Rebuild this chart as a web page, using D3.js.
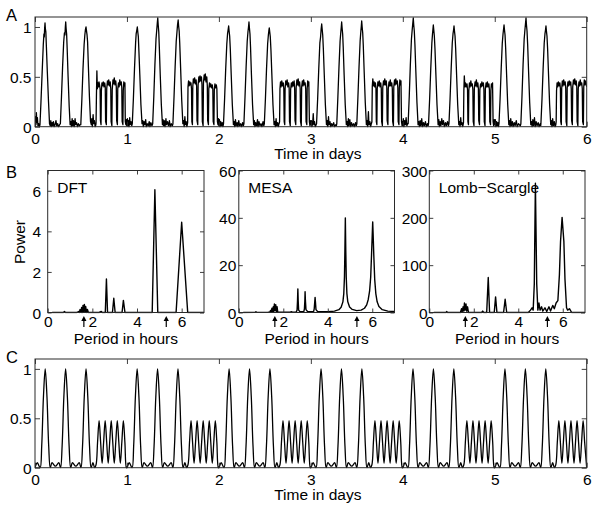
<!DOCTYPE html>
<html><head><meta charset="utf-8">
<script src="https://cdn.jsdelivr.net/npm/d3@7"></script>
<style>
body{margin:0;background:#fff}
svg{display:block}
text{font-family:"Liberation Sans",Arial,Helvetica,sans-serif;fill:#000}
</style>
</head><body>
<svg id="chart" width="600" height="509"></svg>
<script>
// ---------- DATA ----------
const dayTicks = [0,1,2,3,4,5,6];
const activityTicks = [0,0.5,1];
const periodTicks = [0,2,4,6];
const arrowPeriods = [1.62, 5.31];
const dftTicks = [0,2,4,6];
const mesaTicks = [0,20,40,60];
const lombTicks = [0,100,200,300];

// Panel A: measured activity (time in days, activity)
const aDay0 = [[0.000,0.03],[0.006,0.10],[0.010,0.02],[0.015,0.14],[0.020,0.04],[0.026,0.09],[0.032,0.01],[0.040,0.03],[0.048,0.00],
[0.054,0.02],[0.065,0.25],[0.078,0.55],[0.090,0.82],[0.097,0.93],[0.101,0.90],[0.105,0.99],[0.109,1.04],[0.113,0.98],[0.118,0.95],[0.124,0.80],[0.134,0.55],[0.147,0.25],[0.158,0.03],
[0.166,0.01],[0.172,0.06],[0.178,0.00],[0.186,0.04],[0.192,0.01],[0.200,0.05],[0.208,0.00],[0.218,0.02],[0.228,0.06],[0.236,0.01],[0.246,0.03],[0.256,0.00],[0.268,0.02],
[0.276,0.03],[0.288,0.30],[0.300,0.60],[0.312,0.85],[0.320,0.94],[0.326,0.92],[0.330,1.00],[0.334,1.05],[0.338,0.99],[0.344,0.93],[0.350,0.78],[0.360,0.50],[0.372,0.20],[0.382,0.02],
[0.390,0.05],[0.396,0.00],[0.404,0.08],[0.410,0.01],[0.418,0.06],[0.426,0.00],[0.436,0.08],[0.442,0.02],[0.452,0.04],[0.462,0.00],[0.472,0.03],[0.484,0.01],[0.492,0.02],
[0.498,0.02],[0.510,0.28],[0.522,0.58],[0.534,0.82],[0.542,0.92],[0.548,0.97],[0.555,1.00],[0.560,0.96],[0.566,0.92],[0.572,0.85],[0.580,0.62],[0.592,0.30],[0.604,0.05],
[0.612,0.02],[0.618,0.08],[0.624,0.00],[0.632,0.12],[0.638,0.03],[0.646,0.06],[0.654,0.00],[0.662,0.02],
[0.664,0.04],[0.668,0.30],[0.673,0.56],[0.678,0.38],[0.684,0.44],[0.690,0.40],[0.696,0.45],[0.702,0.42],[0.708,0.38],[0.712,0.06],[0.718,0.02],
[0.722,0.36],[0.728,0.44],[0.734,0.41],[0.742,0.45],[0.750,0.40],[0.758,0.44],[0.764,0.40],[0.768,0.05],[0.776,0.02],
[0.780,0.38],[0.788,0.46],[0.795,0.42],[0.802,0.47],[0.810,0.41],[0.818,0.45],[0.824,0.38],[0.828,0.05],[0.836,0.01],
[0.840,0.37],[0.848,0.47],[0.855,0.43],[0.862,0.49],[0.870,0.42],[0.878,0.46],[0.884,0.40],[0.888,0.06],[0.896,0.02],
[0.900,0.38],[0.908,0.44],[0.915,0.40],[0.922,0.47],[0.930,0.42],[0.938,0.45],[0.944,0.39],[0.948,0.05],[0.956,0.02],
[0.960,0.36],[0.966,0.45],[0.972,0.41],[0.978,0.44],[0.982,0.05],[0.988,0.02],[0.994,0.07],[0.998,0.01]];
const aDay1 = [[1.000,0.02],[1.005,0.08],[1.010,0.01],[1.016,0.06],[1.022,0.00],[1.030,0.09],[1.036,0.02],[1.044,0.05],[1.052,0.01],
[1.058,0.03],[1.070,0.28],[1.082,0.58],[1.094,0.84],[1.100,0.93],[1.106,0.96],[1.113,1.00],[1.118,0.95],[1.124,0.90],[1.130,0.76],[1.140,0.52],[1.152,0.22],[1.164,0.03],
[1.172,0.06],[1.178,0.00],[1.186,0.05],[1.194,0.02],[1.204,0.07],[1.210,0.00],[1.220,0.03],[1.232,0.01],[1.242,0.05],[1.250,0.00],[1.260,0.04],[1.272,0.01],
[1.280,0.03],[1.292,0.30],[1.304,0.62],[1.316,0.88],[1.324,0.97],[1.330,1.04],[1.335,1.09],[1.340,1.02],[1.346,0.95],[1.352,0.80],[1.362,0.52],[1.374,0.22],[1.386,0.02],
[1.392,0.07],[1.398,0.01],[1.406,0.06],[1.414,0.00],[1.424,0.08],[1.430,0.02],[1.440,0.05],[1.452,0.01],[1.462,0.06],[1.470,0.00],[1.482,0.03],[1.494,0.01],
[1.500,0.03],[1.512,0.30],[1.524,0.60],[1.536,0.86],[1.544,0.95],[1.550,1.02],[1.557,1.07],[1.562,1.01],[1.568,0.96],[1.574,0.84],[1.584,0.58],[1.596,0.26],[1.608,0.03],
[1.616,0.06],[1.622,0.00],[1.630,0.10],[1.636,0.02],[1.644,0.05],[1.652,0.00],
[1.660,0.04],[1.664,0.40],[1.670,0.46],[1.676,0.41],[1.684,0.45],[1.690,0.42],[1.696,0.44],[1.702,0.38],[1.706,0.05],[1.712,0.02],
[1.716,0.40],[1.722,0.48],[1.728,0.44],[1.736,0.49],[1.744,0.43],[1.752,0.47],[1.758,0.40],[1.762,0.06],[1.770,0.02],
[1.774,0.42],[1.782,0.50],[1.788,0.45],[1.795,0.51],[1.802,0.46],[1.810,0.50],[1.816,0.42],[1.820,0.05],[1.828,0.01],
[1.832,0.44],[1.840,0.52],[1.846,0.47],[1.852,0.53],[1.860,0.45],[1.868,0.50],[1.874,0.41],[1.878,0.06],[1.886,0.02],
[1.890,0.38],[1.898,0.44],[1.905,0.40],[1.912,0.43],[1.920,0.39],[1.928,0.42],[1.934,0.37],[1.938,0.05],[1.946,0.02],
[1.950,0.37],[1.957,0.43],[1.964,0.39],[1.972,0.42],[1.978,0.38],[1.984,0.05],[1.990,0.02],[1.996,0.08]];
const aDay2 = [[2.000,0.01],[2.006,0.07],[2.012,0.00],[2.020,0.05],[2.028,0.01],[2.036,0.04],[2.044,0.00],
[2.050,0.03],[2.062,0.28],[2.074,0.58],[2.086,0.83],[2.094,0.93],[2.100,0.97],[2.106,1.01],[2.111,0.96],[2.117,0.91],[2.124,0.78],[2.134,0.52],[2.146,0.22],[2.158,0.02],
[2.166,0.05],[2.172,0.00],[2.180,0.07],[2.188,0.01],[2.198,0.04],[2.206,0.00],[2.216,0.06],[2.224,0.01],[2.236,0.03],[2.246,0.00],[2.258,0.04],[2.266,0.01],
[2.272,0.03],[2.284,0.30],[2.296,0.60],[2.308,0.86],[2.316,0.95],[2.322,1.00],[2.327,1.05],[2.332,0.99],[2.338,0.93],[2.344,0.80],[2.354,0.52],[2.366,0.22],[2.378,0.02],
[2.386,0.06],[2.392,0.00],[2.400,0.04],[2.410,0.01],[2.420,0.07],[2.426,0.00],[2.436,0.05],[2.446,0.01],[2.458,0.03],[2.468,0.00],[2.480,0.05],[2.488,0.01],
[2.494,0.03],[2.506,0.28],[2.518,0.58],[2.530,0.83],[2.538,0.92],[2.543,0.96],[2.548,0.99],[2.553,0.95],[2.559,0.90],[2.566,0.77],[2.576,0.52],[2.588,0.22],[2.600,0.02],
[2.608,0.05],[2.614,0.00],[2.622,0.08],[2.628,0.01],[2.638,0.04],[2.646,0.00],[2.654,0.03],
[2.660,0.05],[2.664,0.38],[2.670,0.45],[2.676,0.40],[2.684,0.46],[2.692,0.41],[2.700,0.44],[2.706,0.38],[2.710,0.05],[2.716,0.02],
[2.720,0.38],[2.727,0.46],[2.734,0.42],[2.742,0.47],[2.750,0.40],[2.758,0.44],[2.764,0.39],[2.768,0.05],[2.776,0.01],
[2.780,0.37],[2.788,0.44],[2.795,0.40],[2.802,0.45],[2.810,0.41],[2.818,0.46],[2.824,0.38],[2.828,0.06],[2.836,0.02],
[2.840,0.39],[2.848,0.47],[2.855,0.42],[2.862,0.48],[2.870,0.41],[2.878,0.45],[2.884,0.38],[2.888,0.05],[2.896,0.01],
[2.900,0.40],[2.908,0.46],[2.915,0.41],[2.922,0.47],[2.930,0.42],[2.938,0.44],[2.944,0.38],[2.948,0.05],[2.956,0.02],
[2.960,0.38],[2.966,0.46],[2.972,0.41],[2.978,0.45],[2.984,0.05],[2.990,0.01],[2.996,0.06]];
const aDay3 = [[3.000,0.02],[3.006,0.06],[3.012,0.00],[3.020,0.04],[3.026,0.13],[3.032,0.02],[3.040,0.05],[3.048,0.00],
[3.062,0.03],[3.074,0.28],[3.086,0.58],[3.098,0.84],[3.106,0.90],[3.112,0.98],[3.118,1.03],[3.123,0.98],[3.129,0.92],[3.136,0.78],[3.146,0.52],[3.158,0.22],[3.170,0.02],
[3.178,0.06],[3.184,0.00],[3.192,0.10],[3.198,0.02],[3.208,0.05],[3.216,0.00],[3.226,0.03],[3.236,0.01],[3.248,0.04],[3.258,0.00],[3.270,0.02],[3.278,0.01],
[3.282,0.03],[3.294,0.30],[3.306,0.60],[3.318,0.86],[3.326,0.95],[3.331,1.00],[3.335,1.05],[3.340,0.99],[3.346,0.93],[3.352,0.80],[3.362,0.52],[3.374,0.22],[3.386,0.02],
[3.394,0.05],[3.400,0.00],[3.408,0.08],[3.414,0.01],[3.424,0.07],[3.432,0.00],[3.442,0.04],[3.452,0.01],[3.464,0.03],[3.474,0.00],[3.486,0.04],[3.494,0.01],
[3.500,0.03],[3.512,0.30],[3.524,0.60],[3.536,0.86],[3.544,0.96],[3.549,1.01],[3.553,1.06],[3.558,1.00],[3.564,0.94],[3.570,0.82],[3.580,0.55],[3.592,0.24],[3.604,0.02],
[3.612,0.06],[3.618,0.00],[3.626,0.15],[3.632,0.02],[3.642,0.05],[3.650,0.00],[3.658,0.03],
[3.664,0.05],[3.668,0.40],[3.674,0.48],[3.680,0.41],[3.688,0.45],[3.695,0.40],[3.702,0.44],[3.708,0.38],[3.712,0.05],[3.718,0.02],
[3.722,0.38],[3.729,0.45],[3.736,0.41],[3.744,0.46],[3.752,0.40],[3.760,0.44],[3.766,0.38],[3.770,0.05],[3.778,0.01],
[3.782,0.39],[3.790,0.46],[3.797,0.42],[3.804,0.48],[3.812,0.42],[3.820,0.46],[3.826,0.39],[3.830,0.06],[3.838,0.02],
[3.842,0.38],[3.850,0.45],[3.857,0.41],[3.864,0.47],[3.872,0.41],[3.880,0.44],[3.886,0.38],[3.890,0.05],[3.898,0.01],
[3.902,0.40],[3.910,0.47],[3.917,0.42],[3.924,0.48],[3.932,0.43],[3.940,0.46],[3.946,0.39],[3.950,0.05],[3.958,0.02],
[3.962,0.39],[3.968,0.47],[3.974,0.42],[3.980,0.46],[3.986,0.05],[3.992,0.01],[3.997,0.05]];
const aDay4 = [[4.000,0.01],[4.006,0.08],[4.012,0.00],[4.020,0.06],[4.028,0.02],[4.036,0.09],[4.044,0.01],[4.052,0.03],
[4.058,0.03],[4.070,0.30],[4.082,0.62],[4.094,0.88],[4.102,0.97],[4.108,1.03],[4.114,1.09],[4.119,1.02],[4.125,0.96],[4.132,0.82],[4.142,0.55],[4.154,0.24],[4.166,0.02],
[4.174,0.05],[4.180,0.00],[4.188,0.06],[4.196,0.01],[4.206,0.08],[4.214,0.00],[4.224,0.04],[4.234,0.01],[4.246,0.05],[4.256,0.00],[4.268,0.03],[4.276,0.01],
[4.280,0.03],[4.292,0.28],[4.304,0.58],[4.316,0.84],[4.323,0.93],[4.328,0.98],[4.332,1.02],[4.337,0.97],[4.343,0.91],[4.350,0.78],[4.360,0.52],[4.372,0.22],[4.384,0.02],
[4.392,0.07],[4.398,0.00],[4.406,0.05],[4.414,0.01],[4.424,0.08],[4.432,0.02],[4.442,0.06],[4.452,0.00],[4.464,0.04],[4.474,0.01],[4.486,0.05],[4.496,0.01],
[4.502,0.03],[4.514,0.28],[4.526,0.58],[4.538,0.84],[4.546,0.93],[4.552,0.97],[4.557,1.01],[4.562,0.96],[4.568,0.91],[4.575,0.78],[4.585,0.52],[4.597,0.22],[4.609,0.02],
[4.616,0.05],[4.622,0.00],[4.630,0.09],[4.636,0.02],[4.644,0.04],[4.652,0.00],
[4.660,0.04],[4.664,0.36],[4.669,0.51],[4.675,0.40],[4.682,0.44],[4.690,0.40],[4.698,0.43],[4.704,0.37],[4.708,0.05],[4.714,0.02],
[4.718,0.36],[4.725,0.44],[4.732,0.40],[4.740,0.46],[4.748,0.41],[4.756,0.43],[4.762,0.37],[4.766,0.05],[4.774,0.01],
[4.778,0.38],[4.786,0.45],[4.793,0.41],[4.800,0.47],[4.808,0.40],[4.816,0.44],[4.822,0.38],[4.826,0.06],[4.834,0.02],
[4.838,0.37],[4.846,0.43],[4.853,0.40],[4.860,0.45],[4.868,0.41],[4.876,0.44],[4.882,0.37],[4.886,0.05],[4.894,0.01],
[4.898,0.38],[4.906,0.44],[4.913,0.40],[4.920,0.45],[4.928,0.40],[4.936,0.43],[4.942,0.37],[4.946,0.05],[4.954,0.02],
[4.958,0.36],[4.964,0.43],[4.970,0.40],[4.976,0.44],[4.982,0.05],[4.988,0.01],[4.995,0.07]];
const aDay5 = [[5.000,0.02],[5.006,0.07],[5.012,0.00],[5.020,0.05],[5.026,0.01],[5.034,0.04],[5.040,0.00],
[5.046,0.03],[5.058,0.28],[5.070,0.58],[5.082,0.84],[5.090,0.93],[5.096,0.98],[5.101,1.02],[5.106,0.97],[5.112,0.92],[5.119,0.78],[5.129,0.52],[5.141,0.22],[5.153,0.02],
[5.160,0.06],[5.166,0.00],[5.174,0.08],[5.182,0.01],[5.192,0.05],[5.200,0.00],[5.212,0.04],[5.222,0.01],[5.234,0.06],[5.244,0.00],[5.258,0.03],[5.278,0.01],
[5.284,0.03],[5.296,0.30],[5.308,0.62],[5.320,0.88],[5.328,0.97],[5.334,1.03],[5.340,1.09],[5.345,1.02],[5.351,0.96],[5.358,0.82],[5.368,0.55],[5.380,0.24],[5.392,0.02],
[5.400,0.05],[5.406,0.00],[5.414,0.07],[5.422,0.01],[5.432,0.09],[5.440,0.00],[5.450,0.05],[5.460,0.01],[5.472,0.04],[5.482,0.00],[5.494,0.03],[5.500,0.01],
[5.502,0.03],[5.514,0.28],[5.526,0.58],[5.538,0.84],[5.546,0.93],[5.552,0.97],[5.557,1.01],[5.562,0.96],[5.568,0.91],[5.575,0.78],[5.585,0.52],[5.597,0.22],[5.609,0.02],
[5.616,0.06],[5.622,0.00],[5.630,0.08],[5.638,0.01],[5.648,0.05],[5.656,0.00],[5.664,0.02],
[5.668,0.05],[5.672,0.36],[5.678,0.44],[5.684,0.40],[5.692,0.45],[5.700,0.41],[5.708,0.44],[5.714,0.38],[5.718,0.05],[5.724,0.02],
[5.728,0.38],[5.735,0.46],[5.742,0.41],[5.750,0.47],[5.758,0.42],[5.766,0.45],[5.772,0.38],[5.776,0.05],[5.784,0.01],
[5.788,0.39],[5.796,0.45],[5.803,0.41],[5.810,0.46],[5.818,0.42],[5.826,0.45],[5.832,0.38],[5.836,0.06],[5.844,0.02],
[5.848,0.40],[5.856,0.47],[5.863,0.43],[5.870,0.48],[5.878,0.42],[5.886,0.46],[5.892,0.40],[5.896,0.05],[5.904,0.01],
[5.908,0.38],[5.916,0.45],[5.923,0.41],[5.930,0.47],[5.938,0.42],[5.946,0.44],[5.952,0.38],[5.956,0.05],[5.964,0.02],
[5.968,0.40],[5.974,0.47],[5.980,0.42],[5.986,0.46],[5.992,0.44],[6.000,0.40]];

// Panel B: spectra (period in hours, power)
const dftSpectrum = [[0.2,0],[0.7,0],[0.75,0.05],[0.8,0],[1.3,0],[1.38,0.05],[1.42,0],[1.45,0.15],[1.5,0],[1.52,0.25],[1.56,0],[1.58,0.35],[1.62,0.05],[1.64,0.4],[1.68,0.05],[1.7,0.3],[1.74,0],[1.78,0.15],[1.82,0],[2.3,0],[2.4,0.05],[2.45,0],[2.58,0],[2.63,1.65],[2.68,0],[2.9,0],[2.96,0.7],[3.02,0],[3.33,0],[3.39,0.6],[3.46,0],[4.68,0],[4.8,6.05],[4.93,0],[5.75,0],[6.0,4.45],[6.27,0],[7,0]];
const mesaSpectrum = [[0.2,0],[0.7,0.05],[0.74,0.1],[0.77,0.35],[0.8,0.1],[0.85,0.05],[1.3,0.05],[1.4,0.2],[1.43,0.9],[1.46,0.2],[1.49,1.8],[1.52,0.3],[1.55,2.4],[1.57,0.5],[1.6,3.6],[1.63,0.8],[1.66,3.3],[1.69,0.5],[1.72,2.5],[1.75,0.3],[1.8,0.1],[2.3,0.1],[2.38,0.3],[2.42,0.1],[2.58,0.2],[2.62,1],[2.64,5],[2.655,10],[2.67,5],[2.69,1],[2.75,0.3],[2.92,0.3],[2.95,1.5],[2.97,5],[2.98,8.8],[2.995,5],[3.02,1.2],[3.1,0.3],[3.36,0.3],[3.39,1.5],[3.415,4.5],[3.43,6.4],[3.445,4.5],[3.47,1.2],[3.55,0.3],[4.0,0.3],[4.3,0.6],[4.5,1.2],[4.6,2.2],[4.68,4.5],[4.72,8],[4.75,15],[4.77,26],[4.79,40],[4.81,26],[4.83,15],[4.86,8],[4.9,4.5],[4.98,2.3],[5.1,1.3],[5.3,0.8],[5.5,1.0],[5.65,1.8],[5.75,3.2],[5.82,5.5],[5.88,9],[5.93,15],[5.97,25],[6.0,33],[6.02,38.3],[6.04,33],[6.07,24],[6.11,14],[6.16,8],[6.22,4.5],[6.3,2.5],[6.45,1.2],[6.7,0.6],[7,0.4]];
const lombSpectrum = [[0.2,0],[0.75,0],[0.78,2],[0.82,0],[1.4,0],[1.45,8],[1.48,2],[1.52,12],[1.55,3],[1.58,20],[1.61,5],[1.65,18],[1.68,3],[1.72,12],[1.76,0],[2.35,0],[2.4,3],[2.45,0],[2.58,0],[2.65,74],[2.71,0],[2.92,0],[2.98,33],[3.04,0],[3.34,0],[3.41,28],[3.48,0],[4.45,0],[4.55,5],[4.62,10],[4.67,5],[4.72,60],[4.77,273],[4.83,60],[4.88,5],[4.93,20],[4.98,5],[5.05,12],[5.1,3],[5.2,10],[5.28,2],[5.38,12],[5.45,3],[5.55,15],[5.62,8],[5.7,20],[5.78,25],[5.85,80],[5.9,150],[5.97,201],[6.05,150],[6.1,70],[6.17,10],[6.22,5],[6.3,8],[6.4,0],[7,0]];

// Panel C: fitted model (time in days, activity)
const cDay0 = [[0.000,0.00],[0.025,0.05],[0.056,0.00],[0.073,0.22],[0.092,0.72],[0.111,1.00],[0.130,0.72],[0.149,0.22],[0.166,0.00],[0.185,0.05],[0.222,0.015],[0.259,0.05],[0.278,0.00],[0.295,0.22],[0.314,0.72],[0.333,1.00],[0.352,0.72],[0.371,0.22],[0.388,0.00],[0.407,0.05],[0.444,0.015],[0.481,0.05],[0.500,0.00],[0.517,0.22],[0.536,0.72],[0.555,1.00],[0.574,0.72],[0.593,0.22],[0.610,0.00],[0.630,0.05],[0.648,0.00],[0.664,0.03],[0.6805,0.26],[0.697,0.475],[0.7135,0.26],[0.730,0.045],[0.7465,0.26],[0.763,0.475],[0.7795,0.26],[0.796,0.045],[0.8125,0.26],[0.829,0.475],[0.8455,0.26],[0.862,0.045],[0.8785,0.26],[0.895,0.475],[0.9115,0.26],[0.928,0.045],[0.9445,0.26],[0.961,0.475],[0.9775,0.26],[0.994,0.00]];
const cDay1 = [[1.000,0.00],[1.025,0.05],[1.056,0.00],[1.073,0.22],[1.092,0.72],[1.111,1.00],[1.130,0.72],[1.149,0.22],[1.166,0.00],[1.185,0.05],[1.222,0.015],[1.259,0.05],[1.278,0.00],[1.295,0.22],[1.314,0.72],[1.333,1.00],[1.352,0.72],[1.371,0.22],[1.388,0.00],[1.407,0.05],[1.444,0.015],[1.481,0.05],[1.500,0.00],[1.517,0.22],[1.536,0.72],[1.555,1.00],[1.574,0.72],[1.593,0.22],[1.610,0.00],[1.630,0.05],[1.648,0.00],[1.664,0.03],[1.6805,0.26],[1.697,0.475],[1.7135,0.26],[1.730,0.045],[1.7465,0.26],[1.763,0.475],[1.7795,0.26],[1.796,0.045],[1.8125,0.26],[1.829,0.475],[1.8455,0.26],[1.862,0.045],[1.8785,0.26],[1.895,0.475],[1.9115,0.26],[1.928,0.045],[1.9445,0.26],[1.961,0.475],[1.9775,0.26],[1.994,0.00]];
const cDay2 = [[2.000,0.00],[2.025,0.05],[2.056,0.00],[2.073,0.22],[2.092,0.72],[2.111,1.00],[2.130,0.72],[2.149,0.22],[2.166,0.00],[2.185,0.05],[2.222,0.015],[2.259,0.05],[2.278,0.00],[2.295,0.22],[2.314,0.72],[2.333,1.00],[2.352,0.72],[2.371,0.22],[2.388,0.00],[2.407,0.05],[2.444,0.015],[2.481,0.05],[2.500,0.00],[2.517,0.22],[2.536,0.72],[2.555,1.00],[2.574,0.72],[2.593,0.22],[2.610,0.00],[2.630,0.05],[2.648,0.00],[2.664,0.03],[2.6805,0.26],[2.697,0.475],[2.7135,0.26],[2.730,0.045],[2.7465,0.26],[2.763,0.475],[2.7795,0.26],[2.796,0.045],[2.8125,0.26],[2.829,0.475],[2.8455,0.26],[2.862,0.045],[2.8785,0.26],[2.895,0.475],[2.9115,0.26],[2.928,0.045],[2.9445,0.26],[2.961,0.475],[2.9775,0.26],[2.994,0.00]];
const cDay3 = [[3.000,0.00],[3.025,0.05],[3.056,0.00],[3.073,0.22],[3.092,0.72],[3.111,1.00],[3.130,0.72],[3.149,0.22],[3.166,0.00],[3.185,0.05],[3.222,0.015],[3.259,0.05],[3.278,0.00],[3.295,0.22],[3.314,0.72],[3.333,1.00],[3.352,0.72],[3.371,0.22],[3.388,0.00],[3.407,0.05],[3.444,0.015],[3.481,0.05],[3.500,0.00],[3.517,0.22],[3.536,0.72],[3.555,1.00],[3.574,0.72],[3.593,0.22],[3.610,0.00],[3.630,0.05],[3.648,0.00],[3.664,0.03],[3.6805,0.26],[3.697,0.475],[3.7135,0.26],[3.730,0.045],[3.7465,0.26],[3.763,0.475],[3.7795,0.26],[3.796,0.045],[3.8125,0.26],[3.829,0.475],[3.8455,0.26],[3.862,0.045],[3.8785,0.26],[3.895,0.475],[3.9115,0.26],[3.928,0.045],[3.9445,0.26],[3.961,0.475],[3.9775,0.26],[3.994,0.00]];
const cDay4 = [[4.000,0.00],[4.025,0.05],[4.056,0.00],[4.073,0.22],[4.092,0.72],[4.111,1.00],[4.130,0.72],[4.149,0.22],[4.166,0.00],[4.185,0.05],[4.222,0.015],[4.259,0.05],[4.278,0.00],[4.295,0.22],[4.314,0.72],[4.333,1.00],[4.352,0.72],[4.371,0.22],[4.388,0.00],[4.407,0.05],[4.444,0.015],[4.481,0.05],[4.500,0.00],[4.517,0.22],[4.536,0.72],[4.555,1.00],[4.574,0.72],[4.593,0.22],[4.610,0.00],[4.630,0.05],[4.648,0.00],[4.664,0.03],[4.6805,0.26],[4.697,0.475],[4.7135,0.26],[4.730,0.045],[4.7465,0.26],[4.763,0.475],[4.7795,0.26],[4.796,0.045],[4.8125,0.26],[4.829,0.475],[4.8455,0.26],[4.862,0.045],[4.8785,0.26],[4.895,0.475],[4.9115,0.26],[4.928,0.045],[4.9445,0.26],[4.961,0.475],[4.9775,0.26],[4.994,0.00]];
const cDay5 = [[5.000,0.00],[5.025,0.05],[5.056,0.00],[5.073,0.22],[5.092,0.72],[5.111,1.00],[5.130,0.72],[5.149,0.22],[5.166,0.00],[5.185,0.05],[5.222,0.015],[5.259,0.05],[5.278,0.00],[5.295,0.22],[5.314,0.72],[5.333,1.00],[5.352,0.72],[5.371,0.22],[5.388,0.00],[5.407,0.05],[5.444,0.015],[5.481,0.05],[5.500,0.00],[5.517,0.22],[5.536,0.72],[5.555,1.00],[5.574,0.72],[5.593,0.22],[5.610,0.00],[5.630,0.05],[5.648,0.00],[5.664,0.03],[5.6805,0.26],[5.697,0.475],[5.7135,0.26],[5.730,0.045],[5.7465,0.26],[5.763,0.475],[5.7795,0.26],[5.796,0.045],[5.8125,0.26],[5.829,0.475],[5.8455,0.26],[5.862,0.045],[5.8785,0.26],[5.895,0.475],[5.9115,0.26],[5.928,0.045],[5.9445,0.26],[5.961,0.475],[5.9775,0.26],[6.000,0.00]];

// ---------- DRAWING ----------
const svg = d3.select("#chart");
const FS = "15.5px";
const BOX = "#2a2a2a";
const fmt = d3.format("~g");
let clipId = 0;

function frame(g, x, y, xTicks, yTicks, opts) {
  const [x0, x1] = x.range();
  const [yb, yt] = y.range();
  // inward ticks on all four sides
  const bottom = g.append("g").attr("transform", `translate(0,${yb})`)
    .call(d3.axisBottom(x).tickValues(xTicks).tickFormat(fmt).tickSizeInner(-opts.tick).tickSizeOuter(0).tickPadding(0));
  const top = g.append("g").attr("transform", `translate(0,${yt})`)
    .call(d3.axisTop(x).tickValues(xTicks).tickSizeInner(-opts.tick).tickSizeOuter(0).tickFormat(""));
  const left = g.append("g").attr("transform", `translate(${x0},0)`)
    .call(d3.axisLeft(y).tickValues(yTicks).tickFormat(fmt).tickSizeInner(-opts.tick).tickSizeOuter(0).tickPadding(opts.yPad));
  const right = g.append("g").attr("transform", `translate(${x1},0)`)
    .call(d3.axisRight(y).tickValues(yTicks).tickSizeInner(-opts.tick).tickSizeOuter(0).tickFormat(""));
  [bottom, top, left, right].forEach(a => {
    a.select(".domain").remove();
    a.selectAll(".tick line").attr("stroke", BOX).attr("stroke-width", 0.9);
    a.selectAll("text").attr("font-size", FS).attr("font-family", '"Liberation Sans",Arial,sans-serif').attr("fill", "#000");
  });
  bottom.selectAll("text").attr("dy", null).attr("y", opts.xBase);
  left.selectAll("text").attr("dy", "0.36em");
  g.append("rect").attr("x", x0).attr("y", yt).attr("width", x1 - x0).attr("height", yb - yt)
    .attr("fill", "none").attr("stroke", BOX).attr("stroke-width", 1);
}

function clipFor(g, x, y) {
  const id = "clip" + (clipId++);
  const [x0, x1] = x.range();
  const [yb, yt] = y.range();
  g.append("clipPath").attr("id", id).append("rect")
    .attr("x", x0).attr("y", yt - 1).attr("width", x1 - x0).attr("height", yb - yt + 2);
  return "url(#" + id + ")";
}

function timePanel(series, top, bottom, letter, letterY, curve) {
  const g = svg.append("g");
  const x = d3.scaleLinear().domain([0, 6]).range([35, 586.7]);
  const y = d3.scaleLinear().domain([0, 1.1]).range([bottom, top]);
  const line = d3.line().x(d => x(d[0])).y(d => y(d[1])).curve(curve);
  g.append("path").datum(series).attr("d", line)
    .attr("fill", "none").attr("stroke", "#000").attr("stroke-width", 1.3)
    .attr("stroke-linejoin", "round").attr("clip-path", clipFor(g, x, y));
  frame(g, x, y, dayTicks, activityTicks, {tick: 5, yPad: 3.5, xBase: 17.3});
  g.append("text").attr("x", (35 + 586.7) / 2 + 7).attr("y", bottom + 32.5)
    .attr("text-anchor", "middle").attr("font-size", FS).text("Time in days");
  g.append("text").attr("x", 6).attr("y", letterY).attr("font-size", "16.5px").text(letter);
}

function spectrumPanel(series, left, right, yMax, yTicks, title, yPad, ylabel) {
  const g = svg.append("g");
  const top = 170.5, bottom = 312.5;
  const x = d3.scaleLinear().domain([0, 7]).range([left, right]);
  const y = d3.scaleLinear().domain([0, yMax]).range([bottom, top]);
  const line = d3.line().x(d => x(d[0])).y(d => y(d[1]));
  g.append("path").datum(series).attr("d", line)
    .attr("fill", "none").attr("stroke", "#000").attr("stroke-width", 1.4)
    .attr("stroke-linejoin", "round").attr("clip-path", clipFor(g, x, y));
  frame(g, x, y, periodTicks, yTicks, {tick: 4, yPad: yPad, xBase: 14.8});
  g.append("text").attr("x", left + 9.5).attr("y", 192.5).attr("font-size", FS).text(title);
  g.append("text").attr("x", (left + right) / 2).attr("y", 343.5)
    .attr("text-anchor", "middle").attr("font-size", FS).text("Period in hours");
  // arrows marking expected periods
  arrowPeriods.forEach(p => {
    const ax = x(p);
    g.append("line").attr("x1", ax).attr("x2", ax).attr("y1", 319).attr("y2", 327)
      .attr("stroke", "#000").attr("stroke-width", 1.2);
    g.append("path").attr("d", `M${ax},316 L${ax - 2.6},321 L${ax + 2.6},321 Z`).attr("fill", "#000");
  });
  if (ylabel) {
    g.append("text").attr("transform", `translate(25,242) rotate(-90)`)
      .attr("text-anchor", "middle").attr("font-size", FS).text(ylabel);
  }
}

const seriesA = [].concat(aDay0, aDay1, aDay2, aDay3, aDay4, aDay5);
const seriesC = [].concat(cDay0, cDay1, cDay2, cDay3, cDay4, cDay5);

timePanel(seriesA, 17, 126.7, "A", 20.8, d3.curveLinear);
spectrumPanel(dftSpectrum, 47.7, 204, 7, dftTicks, "DFT", 6.5, "Power");
spectrumPanel(mesaSpectrum, 238.8, 394.5, 60, mesaTicks, "MESA", 2.5, null);
spectrumPanel(lombSpectrum, 429.3, 585, 300, lombTicks, "Lomb\u2212Scargle", 1.8, null);
timePanel(seriesC, 359, 467.7, "C", 362.7, d3.curveCatmullRom);
svg.append("text").attr("x", 6).attr("y", 177.5).attr("font-size", "16.5px").text("B");
</script>
</body></html>
